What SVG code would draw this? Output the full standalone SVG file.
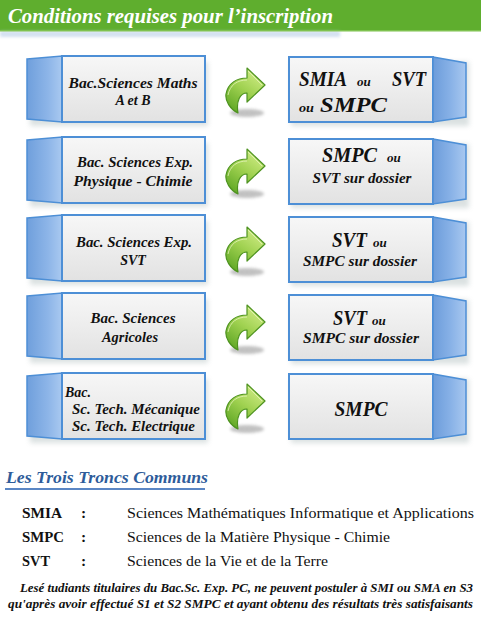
<svg xmlns="http://www.w3.org/2000/svg" xmlns:xlink="http://www.w3.org/1999/xlink" width="481" height="618" viewBox="0 0 481 618">
<style>
.bx{font-family:Liberation Serif,DejaVu Serif,serif;font-weight:bold;font-style:italic;fill:#111;}
.s14{font-size:14px;}
.s20{font-size:20px;}
.s13{font-size:13px;}
.mid{text-anchor:middle;}
.tb{font-family:Liberation Serif,DejaVu Serif,serif;font-size:15.5px;fill:#111;}
.tbb{font-weight:bold;}
.note{font-family:Liberation Serif,DejaVu Serif,serif;font-size:12.5px;font-weight:bold;font-style:italic;fill:#111;}
.hd{font-family:Liberation Serif,DejaVu Serif,serif;font-style:italic;font-weight:bold;}
.edge{stroke:#4d8fd6;}
</style>
<defs>
<linearGradient id="front" x1="0" y1="0" x2="0" y2="1">
<stop offset="0" stop-color="#f7f7f7"/>
<stop offset="1" stop-color="#e2e2e2"/>
</linearGradient>
<linearGradient id="sideL" x1="0" y1="0" x2="1" y2="0">
<stop offset="0" stop-color="#6f9fdc"/>
<stop offset="0.6" stop-color="#8db5e8"/>
<stop offset="1" stop-color="#a9c9f0"/>
</linearGradient>
<linearGradient id="sideR" x1="0" y1="0" x2="1" y2="0">
<stop offset="0" stop-color="#6c9cda"/>
<stop offset="0.5" stop-color="#86b0e6"/>
<stop offset="1" stop-color="#a8c8f0"/>
</linearGradient>
<linearGradient id="arrowG" x1="0.8" y1="0" x2="0.2" y2="1">
<stop offset="0" stop-color="#d4ee8a"/>
<stop offset="0.5" stop-color="#9fd150"/>
<stop offset="1" stop-color="#5ea624"/>
</linearGradient>
<filter id="blur" x="-30%" y="-30%" width="160%" height="160%">
<feGaussianBlur stdDeviation="2.5"/>
</filter>
<filter id="blur1" x="-30%" y="-100%" width="160%" height="300%">
<feGaussianBlur stdDeviation="1.5"/>
</filter>
<g id="leftBox">
<rect x="30" y="6" width="178" height="64" fill="#9aa" opacity="0.35" filter="url(#blur)"/>
<polygon points="27,3 62,0 62,66 27,63" fill="url(#sideL)" class="edge" stroke-width="1.5"/>
<rect x="62" y="0" width="143" height="66" fill="url(#front)" class="edge" stroke-width="2"/>
</g>
<g id="rightBox">
<rect x="291" y="6" width="178" height="64" fill="#9aa" opacity="0.35" filter="url(#blur)"/>
<rect x="289" y="1" width="144" height="65" fill="url(#front)" class="edge" stroke-width="2"/>
<polygon points="433,1 466,7 466,61 433,66" fill="url(#sideR)" class="edge" stroke-width="1.5"/>
</g>
<g id="arrowIcon">
<ellipse cx="22" cy="45" rx="17" ry="4" fill="#777" opacity="0.45" filter="url(#blur1)"/>
<path d="M22,0 L40,17 L22,34 L22,25 C15,25 11,33 13,45 C5,41 0,33 1,26 C3,15 12,10 22,10 Z" fill="url(#arrowG)" stroke="#4e9320" stroke-width="1.2" stroke-linejoin="round"/>
<path d="M23,3 L37,17 M3,27 C5,17 12,12 22,12" fill="none" stroke="#ecf8c8" stroke-width="1" opacity="0.7"/>
</g>
</defs>
<rect width="481" height="618" fill="#ffffff"/>
<g id="header">
<rect x="0" y="0" width="481" height="31" fill="#5fae2e"/>
<rect x="0" y="31" width="340" height="6" fill="#b7cde8" opacity="0.6" filter="url(#blur1)"/>
<rect x="0" y="30" width="481" height="1.5" fill="#7fc250"/>
<text class="hd" x="8" y="23" font-size="20" fill="#ffffff" textLength="325" lengthAdjust="spacingAndGlyphs">Conditions requises pour l’inscription</text>
</g>
<g id="row1">
<g id="bac-maths">
<use xlink:href="#leftBox" transform="translate(0,56)"/>
<text class="bx s14 mid" x="133" y="88" textLength="129" lengthAdjust="spacingAndGlyphs">Bac.Sciences Maths</text>
<text class="bx s14 mid" x="133" y="105">A et B</text>
</g>
<g id="res-maths">
<use xlink:href="#rightBox" transform="translate(0,56)"/>
<text class="bx" font-size="21" x="299" y="86" textLength="48" lengthAdjust="spacingAndGlyphs">SMIA</text>
<text class="bx s13" x="357" y="86">ou</text>
<text class="bx" font-size="21" x="392" y="86" textLength="34" lengthAdjust="spacingAndGlyphs">SVT</text>
<text class="bx" font-size="12" x="299" y="112" textLength="15" lengthAdjust="spacingAndGlyphs">ou</text>
<text class="bx" font-size="21" x="320" y="112" textLength="67" lengthAdjust="spacingAndGlyphs">SMPC</text>
</g>
</g>
<g id="row2">
<g id="bac-pc">
<use xlink:href="#leftBox" transform="translate(0,137)"/>
<text class="bx s14 mid" x="135" y="167" textLength="116" lengthAdjust="spacingAndGlyphs">Bac. Sciences Exp.</text>
<text class="bx s14 mid" x="133" y="186" textLength="119" lengthAdjust="spacingAndGlyphs">Physique - Chimie</text>
</g>
<g id="res-pc">
<use xlink:href="#rightBox" transform="translate(0,138)"/>
<text class="bx s20" x="322" y="162" textLength="55" lengthAdjust="spacingAndGlyphs">SMPC</text>
<text class="bx s13" x="387" y="162">ou</text>
<text class="bx s14 mid" x="362" y="183" textLength="99" lengthAdjust="spacingAndGlyphs">SVT sur dossier</text>
</g>
</g>
<g id="row3">
<g id="bac-svt">
<use xlink:href="#leftBox" transform="translate(0,215)"/>
<text class="bx s14 mid" x="134" y="247" textLength="116" lengthAdjust="spacingAndGlyphs">Bac. Sciences Exp.</text>
<text class="bx s14 mid" x="133" y="265">SVT</text>
</g>
<g id="res-svt">
<use xlink:href="#rightBox" transform="translate(0,216)"/>
<text class="bx s20" x="332" y="247" textLength="35" lengthAdjust="spacingAndGlyphs">SVT</text>
<text class="bx s13" x="373" y="247">ou</text>
<text class="bx s14 mid" x="360" y="266" textLength="114" lengthAdjust="spacingAndGlyphs">SMPC sur dossier</text>
</g>
</g>
<g id="row4">
<g id="bac-agri">
<use xlink:href="#leftBox" transform="translate(0,293)"/>
<text class="bx s14 mid" x="133" y="323" textLength="85" lengthAdjust="spacingAndGlyphs">Bac. Sciences</text>
<text class="bx s14 mid" x="130" y="342" textLength="56" lengthAdjust="spacingAndGlyphs">Agricoles</text>
</g>
<g id="res-agri">
<use xlink:href="#rightBox" transform="translate(0,294)"/>
<text class="bx s20" x="333" y="325" textLength="34" lengthAdjust="spacingAndGlyphs">SVT</text>
<text class="bx s13" x="372" y="325">ou</text>
<text class="bx s14 mid" x="361" y="343" textLength="116" lengthAdjust="spacingAndGlyphs">SMPC sur dossier</text>
</g>
</g>
<g id="row5">
<g id="bac-tech">
<use xlink:href="#leftBox" transform="translate(0,373)"/>
<text class="bx s14" x="65" y="397">Bac.</text>
<text class="bx s14" x="72" y="414" textLength="128" lengthAdjust="spacingAndGlyphs">Sc. Tech. Mécanique</text>
<text class="bx s14" x="72" y="431" textLength="123" lengthAdjust="spacingAndGlyphs">Sc. Tech. Electrique</text>
</g>
<g id="res-tech">
<use xlink:href="#rightBox" transform="translate(0,373)"/>
<text class="bx s20 mid" x="361" y="416" textLength="53" lengthAdjust="spacingAndGlyphs">SMPC</text>
</g>
</g>
<g id="connectors">
<use xlink:href="#arrowIcon" transform="translate(225,68)"/>
<use xlink:href="#arrowIcon" transform="translate(225,149)"/>
<use xlink:href="#arrowIcon" transform="translate(225,227)"/>
<use xlink:href="#arrowIcon" transform="translate(225,305)"/>
<use xlink:href="#arrowIcon" transform="translate(225,384)"/>
</g>
<g id="legend">
<line x1="5" y1="491" x2="205" y2="491" stroke="#9ab" stroke-width="2" opacity="0.5" filter="url(#blur1)"/>
<line x1="5" y1="489" x2="205" y2="489" stroke="#5a86c4" stroke-width="1.8"/>
<text class="hd" x="6" y="483" font-size="17" fill="#2e5c9a" textLength="202" lengthAdjust="spacingAndGlyphs">Les Trois Troncs Communs</text>
<text class="tb tbb" x="22" y="518" textLength="40" lengthAdjust="spacingAndGlyphs">SMIA</text>
<text class="tb tbb" x="81" y="518">:</text>
<text class="tb" x="127" y="518" textLength="347" lengthAdjust="spacingAndGlyphs">Sciences Mathématiques Informatique et Applications</text>
<text class="tb tbb" x="22" y="542" textLength="42" lengthAdjust="spacingAndGlyphs">SMPC</text>
<text class="tb tbb" x="81" y="542">:</text>
<text class="tb" x="127" y="542" textLength="263" lengthAdjust="spacingAndGlyphs">Sciences de la Matière Physique - Chimie</text>
<text class="tb tbb" x="22" y="566" textLength="28" lengthAdjust="spacingAndGlyphs">SVT</text>
<text class="tb tbb" x="81" y="566">:</text>
<text class="tb" x="127" y="566" textLength="201" lengthAdjust="spacingAndGlyphs">Sciences de la Vie et de la Terre</text>
<text class="note" x="20" y="592" textLength="453" lengthAdjust="spacingAndGlyphs">Lesé tudiants titulaires du Bac.Sc. Exp. PC, ne peuvent postuler à SMI ou SMA en S3</text>
<text class="note" x="8" y="608" textLength="465" lengthAdjust="spacingAndGlyphs">qu'après avoir effectué S1 et S2 SMPC et ayant obtenu des résultats très satisfaisants</text>
</g>
</svg>
